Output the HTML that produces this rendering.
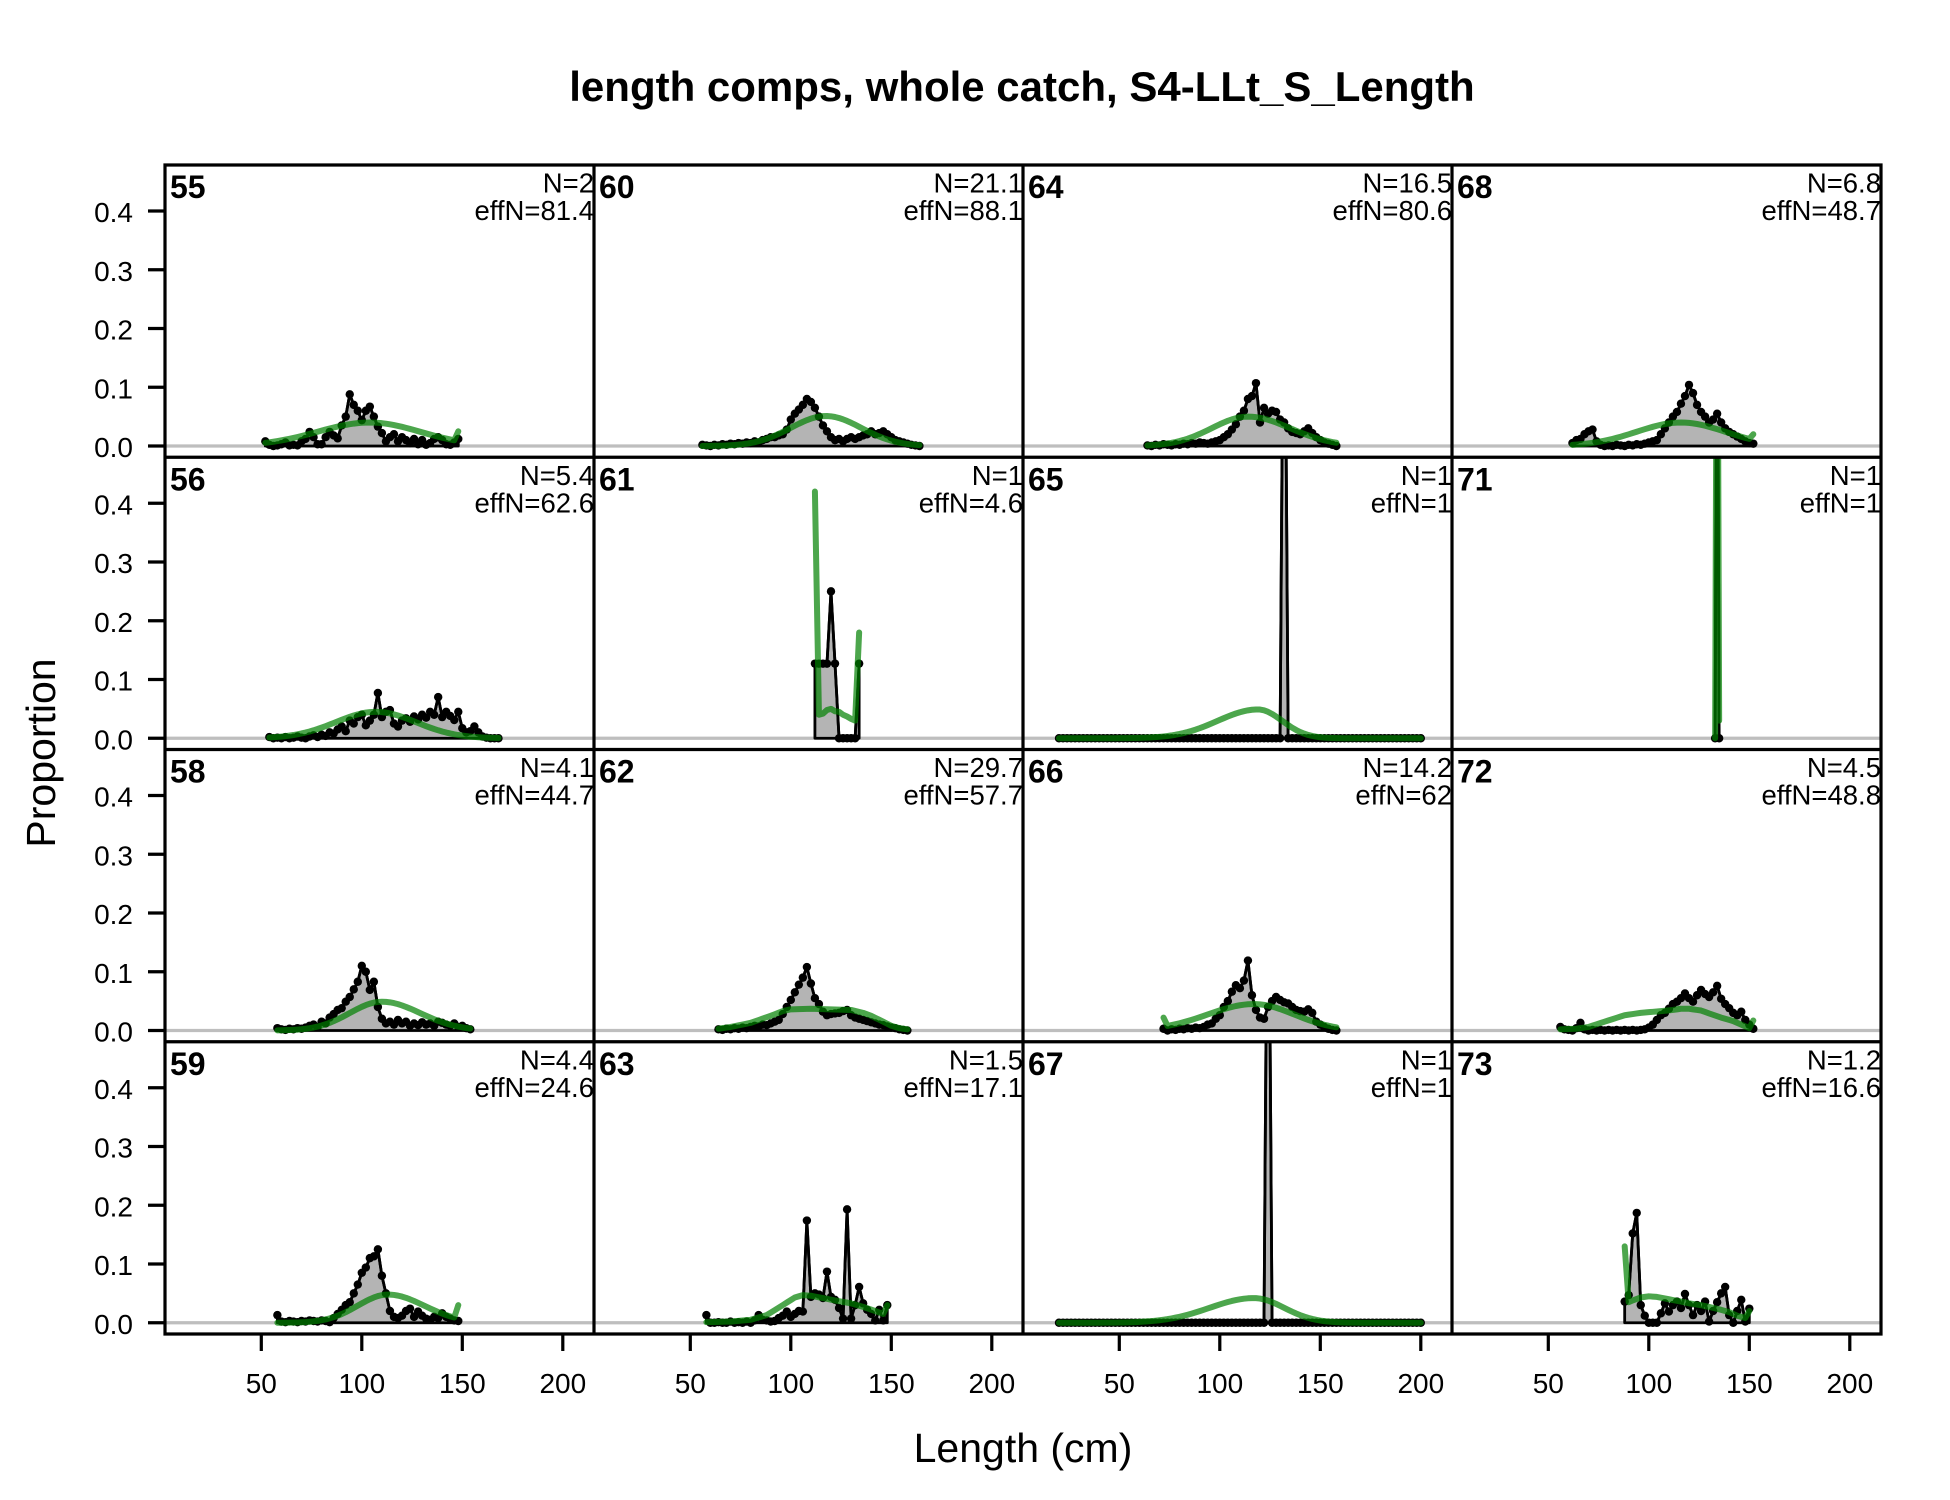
<!DOCTYPE html>
<html>
<head>
<meta charset="utf-8">
<style>
html,body{margin:0;padding:0;background:#fff;}
svg{display:block;}
text{font-family:"Liberation Sans",Arial,sans-serif;fill:#000;}
.ttl{font-size:42px;font-weight:bold;text-anchor:middle;}
.ax{font-size:41px;text-anchor:middle;}
.ty{font-size:28px;text-anchor:end;}
.tx{font-size:28px;text-anchor:middle;}
.lb{font-size:32px;font-weight:bold;}
.nn{font-size:27.5px;text-anchor:end;}
</style>
</head>
<body>
<svg id="chart" xmlns="http://www.w3.org/2000/svg" width="1950" height="1500" viewBox="0 0 1950 1500">
<defs id="defs"></defs>
<rect x="0" y="0" width="1950" height="1500" fill="#fff"/>
<g id="dat"></g>

<!-- panel grid -->
<path d="M165 165H1881V1334H165Z M594 165V1334 M1023 165V1334 M1452 165V1334 M165 457.25H1881 M165 749.5H1881 M165 1041.75H1881" fill="none" stroke="#000" stroke-width="3.2"/>

<!-- y ticks -->
<path d="M148 446H165M148 387.25H165M148 328.5H165M148 269.75H165M148 211H165
M148 738.25H165M148 679.5H165M148 620.75H165M148 562H165M148 503.25H165
M148 1030.5H165M148 971.75H165M148 913H165M148 854.25H165M148 795.5H165
M148 1322.75H165M148 1264H165M148 1205.25H165M148 1146.5H165M148 1087.75H165" fill="none" stroke="#000" stroke-width="3.2"/>

<!-- x ticks -->
<path d="M261.3 1334V1351M361.8 1334V1351M462.3 1334V1351M562.8 1334V1351
M690.3 1334V1351M790.8 1334V1351M891.3 1334V1351M991.8 1334V1351
M1119.3 1334V1351M1219.8 1334V1351M1320.3 1334V1351M1420.8 1334V1351
M1548.3 1334V1351M1648.8 1334V1351M1749.3 1334V1351M1849.8 1334V1351" fill="none" stroke="#000" stroke-width="3.2"/>

<!-- y tick labels -->
<text class="ty" x="133" y="457">0.0</text>
<text class="ty" x="133" y="398.25">0.1</text>
<text class="ty" x="133" y="339.5">0.2</text>
<text class="ty" x="133" y="280.75">0.3</text>
<text class="ty" x="133" y="222">0.4</text>

<text class="ty" x="133" y="749.25">0.0</text>
<text class="ty" x="133" y="690.5">0.1</text>
<text class="ty" x="133" y="631.75">0.2</text>
<text class="ty" x="133" y="573">0.3</text>
<text class="ty" x="133" y="514.25">0.4</text>

<text class="ty" x="133" y="1041.5">0.0</text>
<text class="ty" x="133" y="982.75">0.1</text>
<text class="ty" x="133" y="924">0.2</text>
<text class="ty" x="133" y="865.25">0.3</text>
<text class="ty" x="133" y="806.5">0.4</text>

<text class="ty" x="133" y="1333.75">0.0</text>
<text class="ty" x="133" y="1275">0.1</text>
<text class="ty" x="133" y="1216.25">0.2</text>
<text class="ty" x="133" y="1157.5">0.3</text>
<text class="ty" x="133" y="1098.75">0.4</text>

<!-- x tick labels -->
<text class="tx" x="261.3" y="1393">50</text>
<text class="tx" x="361.8" y="1393">100</text>
<text class="tx" x="462.3" y="1393">150</text>
<text class="tx" x="562.8" y="1393">200</text>
<text class="tx" x="690.3" y="1393">50</text>
<text class="tx" x="790.8" y="1393">100</text>
<text class="tx" x="891.3" y="1393">150</text>
<text class="tx" x="991.8" y="1393">200</text>
<text class="tx" x="1119.3" y="1393">50</text>
<text class="tx" x="1219.8" y="1393">100</text>
<text class="tx" x="1320.3" y="1393">150</text>
<text class="tx" x="1420.8" y="1393">200</text>
<text class="tx" x="1548.3" y="1393">50</text>
<text class="tx" x="1648.8" y="1393">100</text>
<text class="tx" x="1749.3" y="1393">150</text>
<text class="tx" x="1849.8" y="1393">200</text>

<!-- titles -->
<text class="ttl" x="1022" y="101">length comps, whole catch, S4-LLt_S_Length</text>
<text class="ax" transform="translate(55,753) rotate(-90)">Proportion</text>
<text class="ax" x="1023" y="1462">Length (cm)</text>

<!-- panel labels row 1 -->
<text class="lb" x="170" y="198">55</text>
<text class="nn" x="594" y="192.5">N=2</text>
<text class="nn" x="594" y="220">effN=81.4</text>
<text class="lb" x="599" y="198">60</text>
<text class="nn" x="1023" y="192.5">N=21.1</text>
<text class="nn" x="1023" y="220">effN=88.1</text>
<text class="lb" x="1028" y="198">64</text>
<text class="nn" x="1452" y="192.5">N=16.5</text>
<text class="nn" x="1452" y="220">effN=80.6</text>
<text class="lb" x="1457" y="198">68</text>
<text class="nn" x="1881" y="192.5">N=6.8</text>
<text class="nn" x="1881" y="220">effN=48.7</text>

<!-- row 2 -->
<text class="lb" x="170" y="490.25">56</text>
<text class="nn" x="594" y="484.75">N=5.4</text>
<text class="nn" x="594" y="512.25">effN=62.6</text>
<text class="lb" x="599" y="490.25">61</text>
<text class="nn" x="1023" y="484.75">N=1</text>
<text class="nn" x="1023" y="512.25">effN=4.6</text>
<text class="lb" x="1028" y="490.25">65</text>
<text class="nn" x="1452" y="484.75">N=1</text>
<text class="nn" x="1452" y="512.25">effN=1</text>
<text class="lb" x="1457" y="490.25">71</text>
<text class="nn" x="1881" y="484.75">N=1</text>
<text class="nn" x="1881" y="512.25">effN=1</text>

<!-- row 3 -->
<text class="lb" x="170" y="782.5">58</text>
<text class="nn" x="594" y="777">N=4.1</text>
<text class="nn" x="594" y="804.5">effN=44.7</text>
<text class="lb" x="599" y="782.5">62</text>
<text class="nn" x="1023" y="777">N=29.7</text>
<text class="nn" x="1023" y="804.5">effN=57.7</text>
<text class="lb" x="1028" y="782.5">66</text>
<text class="nn" x="1452" y="777">N=14.2</text>
<text class="nn" x="1452" y="804.5">effN=62</text>
<text class="lb" x="1457" y="782.5">72</text>
<text class="nn" x="1881" y="777">N=4.5</text>
<text class="nn" x="1881" y="804.5">effN=48.8</text>

<!-- row 4 -->
<text class="lb" x="170" y="1074.75">59</text>
<text class="nn" x="594" y="1069.25">N=4.4</text>
<text class="nn" x="594" y="1096.75">effN=24.6</text>
<text class="lb" x="599" y="1074.75">63</text>
<text class="nn" x="1023" y="1069.25">N=1.5</text>
<text class="nn" x="1023" y="1096.75">effN=17.1</text>
<text class="lb" x="1028" y="1074.75">67</text>
<text class="nn" x="1452" y="1069.25">N=1</text>
<text class="nn" x="1452" y="1096.75">effN=1</text>
<text class="lb" x="1457" y="1074.75">73</text>
<text class="nn" x="1881" y="1069.25">N=1.2</text>
<text class="nn" x="1881" y="1096.75">effN=16.6</text>
</svg>

<script>
(function(){
var NS='http://www.w3.org/2000/svg';
var root=document.getElementById('dat');
var defs=document.getElementById('defs');
function mk(tag,a,parent){var e=document.createElementNS(NS,tag);for(var k in a)e.setAttribute(k,a[k]);parent.appendChild(e);return e;}
function gs(p,m,l,r){return function(x){var s=x<m?l:r;return p*Math.exp(-(x-m)*(x-m)/(2*s*s));};}
function kp(a){return function(x){if(x<=a[0][0])return a[0][1];for(var i=1;i<a.length;i++){if(x<=a[i][0]){var t=(x-a[i-1][0])/(a[i][0]-a[i-1][0]);return a[i-1][1]+t*(a[i][1]-a[i-1][1]);}}return a[a.length-1][1];};}
function zeros(a,b,spike){var o=[];for(var x=a;x<=b;x+=2)o.push(x==spike?1:0);return o;}

var D=[
{c:0,r:0,s:52,o:[.008,.002,0,.001,.003,.006,.001,.002,.001,.008,.012,.024,.015,.003,.003,.015,.024,.018,.013,.035,.05,.088,.07,.06,.044,.06,.067,.05,.033,.022,.008,.015,.02,.008,.015,.01,.005,.012,.003,.01,.002,.005,.012,.015,.01,.003,.002,.006,.012],e:gs(.04,104,26,25),ov:{148:.025}},
{c:1,r:0,s:56,o:[.002,.001,0,.002,.001,.003,.002,.004,.003,.005,.004,.006,.005,.008,.006,.01,.012,.015,.015,.018,.02,.028,.045,.055,.062,.07,.08,.075,.065,.05,.035,.025,.015,.01,.012,.008,.012,.015,.012,.015,.018,.02,.025,.02,.022,.025,.02,.015,.01,.008,.006,.004,.002,.001,0],e:gs(.051,117.5,17.5,17.5)},
{c:2,r:0,s:64,o:[.001,0,.002,.001,.003,.002,.001,.003,.002,.004,.003,.005,.004,.006,.005,.004,.006,.008,.01,.015,.02,.028,.037,.05,.06,.08,.085,.107,.04,.065,.055,.06,.058,.045,.04,.03,.024,.022,.02,.025,.03,.022,.015,.01,.006,.004,.002,0],e:gs(.05,114,18,21)},
{c:3,r:0,s:62,o:[.005,.01,.012,.02,.025,.028,.008,.002,0,.001,0,.002,.001,0,.002,.001,.003,.002,.004,.006,.008,.01,.02,.03,.04,.05,.058,.072,.085,.104,.09,.07,.058,.05,.04,.045,.055,.04,.03,.024,.02,.016,.012,.008,.005,.004],e:gs(.04,116,22,22),ov:{152:.02}},

{c:0,r:1,s:54,o:[.002,0,.001,0,.002,0,.001,.003,.001,0,.003,.005,.002,.006,.004,.01,.008,.015,.02,.012,.03,.025,.036,.04,.022,.03,.04,.077,.036,.045,.048,.025,.02,.03,.034,.028,.037,.032,.04,.035,.045,.04,.07,.036,.045,.038,.031,.045,.017,.01,.012,.02,.01,.003,.001,0,0,0],e:gs(.045,107,20,20)},
{c:1,r:1,s:112,o:[.127,.127,.127,.127,.25,.127,0,0,0,0,0,.127],ea:[.42,.04,.042,.048,.05,.046,.045,.04,.037,.033,.03,.18]},
{c:2,r:1,s:20,o:zeros(20,200,132),e:gs(.049,119,20,12)},
{c:3,r:1,xs:[133,134,135],o:[0,1,0],ea:[0,1,.03]},

{c:0,r:2,s:58,o:[.004,.002,.001,.003,.002,.004,.003,.005,.008,.01,.006,.015,.012,.022,.028,.035,.038,.049,.057,.07,.083,.11,.1,.069,.083,.04,.02,.012,.015,.01,.018,.012,.015,.008,.012,.009,.014,.01,.012,.008,.015,.013,.01,.008,.012,.006,.008,.004,.002],e:gs(.049,110,16,19)},
{c:1,r:2,s:64,o:[.002,.001,.003,.002,.004,.003,.005,.004,.006,.008,.007,.01,.009,.012,.015,.018,.028,.04,.052,.065,.078,.09,.108,.08,.055,.045,.032,.026,.028,.029,.03,.033,.035,.026,.022,.02,.018,.016,.014,.012,.01,.009,.007,.005,.004,.002,.001,0],e:kp([[64,.003],[70,.006],[80,.013],[90,.025],[96,.033],[100,.036],[110,.037],[120,.036],[130,.035],[136,.03],[140,.025],[146,.015],[150,.008],[154,.004],[158,.002]])},
{c:2,r:2,s:72,o:[.003,0,.002,.001,.003,.002,.004,.003,.005,.004,.006,.01,.012,.02,.026,.04,.05,.066,.077,.072,.085,.119,.06,.035,.022,.02,.04,.05,.057,.052,.048,.046,.04,.035,.033,.032,.036,.03,.015,.01,.006,.003,.001,0],e:gs(.045,117,23,20),ov:{72:.022}},
{c:3,r:2,s:56,o:[.006,.002,.001,0,.004,.013,.002,0,.001,0,.001,0,.001,0,.001,0,.001,0,.001,0,.001,.002,.005,.01,.018,.026,.03,.037,.045,.049,.055,.063,.055,.049,.06,.069,.062,.057,.065,.076,.054,.045,.038,.03,.026,.032,.018,.01,.003],e:kp([[56,.002],[64,.003],[70,.006],[78,.015],[88,.026],[96,.03],[106,.033],[112,.035],[116,.037],[120,.037],[126,.034],[130,.029],[136,.022],[142,.016],[146,.01],[150,.004],[152,.017]])},

{c:0,r:3,s:58,o:[.013,.002,.001,.003,.002,.001,.003,.002,.004,.003,.002,.004,.003,.001,.008,.015,.022,.03,.035,.05,.065,.085,.094,.11,.113,.125,.08,.05,.02,.01,.008,.012,.02,.024,.01,.019,.012,.007,.005,.01,.008,.016,.01,.007,.004,.003],e:gs(.048,113,15,18),ov:{148:.03}},
{c:1,r:3,s:58,o:[.013,0,0,.001,0,0,.002,0,.001,0,.002,0,.004,.013,.005,.004,.002,.003,.008,.012,.019,.01,.015,.02,.019,.174,.044,.05,.048,.042,.087,.044,.039,.025,.007,.193,.007,.03,.061,.033,.022,.015,.004,.022,.004,.03],e:kp([[58,.001],[70,.002],[80,.005],[88,.013],[96,.03],[102,.043],[106,.047],[110,.046],[116,.042],[122,.038],[130,.033],[136,.027],[142,.02],[146,.015],[148,.03]])},
{c:2,r:3,s:20,o:zeros(20,200,124),e:gs(.042,117,22,15)},
{c:3,r:3,s:88,o:[.036,.047,.152,.187,.03,.012,0,0,0,.016,.033,.019,.03,.036,.025,.049,.03,.013,.03,.02,.036,.002,.02,.035,.05,.061,.013,0,.02,.039,.002,.024],e:kp([[88,.13],[90,.035],[92,.038],[96,.043],[100,.045],[104,.044],[110,.04],[116,.036],[120,.033],[126,.03],[130,.027],[136,.022],[140,.018],[144,.012],[148,.008],[150,.02]])}
];

D.forEach(function(d,i){
  var L=165+d.c*429, T=165+d.r*292.25;
  function X(cm){return (L+96.3+(cm-50)*2.01).toFixed(2);}
  function Y(v){return (T+281-v*587.5).toFixed(2);}
  var cp=mk('clipPath',{id:'cp'+i},defs);
  mk('rect',{x:L,y:T,width:429,height:292.25},cp);
  var g=mk('g',{'clip-path':'url(#cp'+i+')'},root);
  mk('line',{x1:L,x2:L+429,y1:Y(0),y2:Y(0),stroke:'#bebebe','stroke-width':3.2},g);
  var xs=d.xs||d.o.map(function(_,j){return d.s+2*j;});
  var pts=xs.map(function(x,j){return X(x)+','+Y(d.o[j]);});
  var poly=[X(xs[0])+','+Y(0)].concat(pts,[X(xs[xs.length-1])+','+Y(0)]);
  mk('polygon',{points:poly.join(' '),fill:'#b4b4b4',stroke:'#000','stroke-width':2.8,'stroke-linejoin':'round'},g);
  mk('polyline',{points:pts.join(' '),fill:'none',stroke:'#000','stroke-width':2.8,'stroke-linejoin':'round'},g);
  xs.forEach(function(x,j){mk('circle',{cx:X(x),cy:Y(d.o[j]),r:4.2,fill:'#000'},g);});
  var ev=d.ea||xs.map(function(x){return (d.ov&&d.ov[x]!==undefined)?d.ov[x]:d.e(x);});
  var ep=xs.map(function(x,j){return X(x)+','+Y(ev[j]);});
  mk('polyline',{points:ep.join(' '),fill:'none',stroke:'#008000','stroke-opacity':'0.7','stroke-width':6,'stroke-linejoin':'round','stroke-linecap':'round'},g);
});
})();
</script>
</body>
</html>
